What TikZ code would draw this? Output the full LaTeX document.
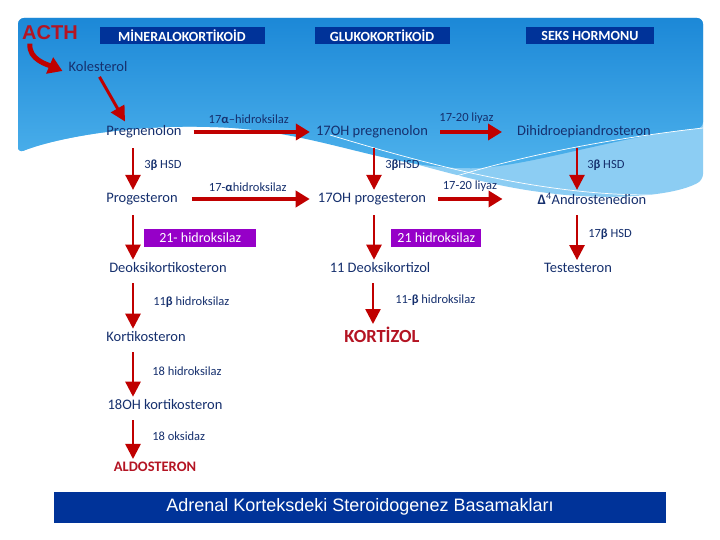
\documentclass[tikz,border=0pt]{standalone}
\usepackage{fontspec}
\setmainfont{Carlito}
\newfontfamily\arialfont{Liberation Sans}
\usetikzlibrary{arrows.meta,positioning,calc}
\definecolor{hdrblue}{RGB}{0,51,153}
\definecolor{txtblue}{RGB}{22,48,110}
\definecolor{arrred}{RGB}{192,0,0}
\definecolor{redtxt}{RGB}{180,20,35}
\definecolor{enzpurple}{RGB}{150,0,200}
\definecolor{bgtop}{RGB}{28,136,215}
\definecolor{bgbot}{RGB}{78,178,236}
\definecolor{bglight}{RGB}{140,205,243}

\begin{document}
\begin{tikzpicture}[x=1pt,y=-1pt,
  steroid/.style={font=\fontsize{14.5}{16}\selectfont,text=txtblue,inner sep=2pt},
  enzyme/.style={font=\fontsize{12.5}{14}\selectfont,text=txtblue,inner sep=1pt},
  header/.style={fill=hdrblue,text=white,font=\fontsize{14}{16}\selectfont\bfseries,
    minimum height=17pt,inner sep=0pt},
  purplebox/.style={fill=enzpurple,text=white,font=\fontsize{14}{16}\selectfont,
    minimum height=18pt,inner sep=0pt},
  endprod/.style={font=\bfseries,text=redtxt,inner sep=2pt},
  hflow/.style={draw=arrred,line width=4pt,-{Triangle[width=16pt,length=14pt]}},
  vflow/.style={draw=arrred,line width=2.5pt,-{Triangle[width=15pt,length=15pt]},
    shorten <=8pt,shorten >=1pt}
]
  \useasboundingbox[fill=white] (0,0) rectangle (720,540);

  % background
  \fill[bglight,rounded corners=6pt] (18,153) -- (18,18) -- (703,18) -- (703,180)
    .. controls (670,198) and (600,200) .. (540,192)
    .. controls (440,178) and (330,130) .. (210,127)
    .. controls (120,125) and (50,140) .. (18,153) -- cycle;
  \shade[top color=bgtop,bottom color=bgbot,rounded corners=6pt] (18,153) -- (18,18) -- (703,18) -- (703,128)
    .. controls (620,135) and (520,170) .. (460,168)
    .. controls (380,165) and (310,130) .. (210,127)
    .. controls (120,125) and (50,140) .. (18,153) -- cycle;
  \draw[white,line width=0.7pt] (330,135) .. controls (430,165) and (540,195) .. (650,195);
  \draw[white,line width=0.7pt] (450,178) .. controls (540,150) and (640,135) .. (703,128);

  % Headers
  \node[font=\arialfont\bfseries\fontsize{20}{22}\selectfont,text=redtxt] (acth) at (50,33) {ACTH};
  \node[header,minimum width=165pt] (hmin) at (182,36) {MİNERALOKORTİKOİD};
  \node[header,minimum width=135pt] (hglu) at (382,36) {GLUKOKORTİKOİD};
  \node[header,minimum width=128pt] (hseks) at (590,36) {SEKS HORMONU};

  \node[steroid] (kol) at (98,67) {Kolesterol};

  % Row 1
  \node[steroid] (preg) at (144,132) {Pregnenolon};
  \node[steroid] (ohpreg) at (372,132) {17OH pregnenolon};
  \node[steroid] (dhea) at (584,132) {Dihidroepiandrosteron};

  % Row 2
  \node[steroid] (prog) at (142,199) {Progesteron};
  \node[steroid] (ohprog) at (372,199) {17OH progesteron};
  \node[steroid] (andro) at (592,199) {\textbf{Δ}\textsuperscript{4}Androstenedion};

  % Row 3
  \node[steroid] (doc) at (168,268) {Deoksikortikosteron};
  \node[steroid] (deoxcort) at (380,268) {11 Deoksikortizol};
  \node[steroid] (testo) at (578,268) {Testesteron};

  % Row 4 and below
  \node[steroid] (corticost) at (146,337) {Kortikosteron};
  \node[endprod,font=\bfseries\fontsize{18.5}{20}\selectfont] (cortisol) at (382,335) {KORTİZOL};
  \node[steroid] (ohcort) at (165,405) {18OH kortikosteron};
  \node[endprod,font=\bfseries\fontsize{14.5}{16}\selectfont] (aldo) at (155,467) {ALDOSTERON};

  % ACTH and cholesterol
  \draw[draw=arrred,line width=5pt,-{Triangle[width=17pt,length=14pt]}]
    ([xshift=-20pt]acth.south) .. controls +(-2,16) and +(-14,-6) .. ([xshift=-4pt,yshift=-4pt]kol.west);
  \draw[draw=arrred,line width=3pt,-{Triangle[width=15pt,length=15pt]},shorten <=3pt]
    (kol.south) -- ([xshift=-19pt,yshift=2pt]preg.north);

  % horizontal steps
  \draw[hflow,shorten <=10pt,shorten >=4pt] (preg.east) -- (ohpreg.west)
    node[enzyme,midway,above=5pt] {17\textbf{α}–hidroksilaz};
  \draw[hflow,shorten <=10pt,shorten >=13pt] (ohpreg.east) -- (dhea.west)
    node[enzyme,midway,above=5pt,xshift=-6pt] {17-20 liyaz};
  \draw[hflow,shorten <=12pt,shorten >=6pt] (prog.east) -- (ohprog.west)
    node[enzyme,midway,above=4pt] {17-\textbf{α}hidroksilaz};
  \draw[hflow,shorten <=10pt,shorten >=33pt] (ohprog.east) -- (andro.west)
    node[enzyme,midway,above=4pt,xshift=-12pt] {17-20 liyaz};

  % column 1
  \draw[vflow] ([xshift=-11pt]preg.south) -- ([xshift=-9pt]prog.north)
    node[enzyme,midway,right=9pt] {3\textbf{β} HSD};
  \draw[vflow] ([xshift=-9pt]prog.south) -- ([xshift=-35pt]doc.north)
    node[purplebox,midway,right=10pt,yshift=-4pt,minimum width=112pt] {21- hidroksilaz};
  \draw[vflow] ([xshift=-35pt]doc.south) -- ([xshift=-13pt]corticost.north)
    node[enzyme,midway,right=18pt] {11\textbf{β} hidroksilaz};
  \draw[vflow] ([xshift=-13pt]corticost.south) -- ([xshift=-32pt]ohcort.north)
    node[enzyme,midway,right=17pt] {18 hidroksilaz};
  \draw[vflow] ([xshift=-32pt]ohcort.south) -- ([xshift=-22pt]aldo.north)
    node[enzyme,midway,right=17pt] {18 oksidaz};

  % column 2
  \draw[vflow] ([xshift=2pt]ohpreg.south) -- ([xshift=2pt]ohprog.north)
    node[enzyme,midway,right=9pt] {3\textbf{β}HSD};
  \draw[vflow] ([xshift=2pt]ohprog.south) -- ([xshift=-6pt]deoxcort.north)
    node[purplebox,midway,right=16pt,yshift=-4pt,minimum width=90pt] {21 hidroksilaz};
  \draw[vflow] ([xshift=-7pt]deoxcort.south) -- ([xshift=-9pt]cortisol.north)
    node[enzyme,midway,right=20pt] {11-\textbf{β} hidroksilaz};

  % column 3
  \draw[vflow] ([xshift=-7pt]dhea.south) -- ([xshift=-15pt]andro.north)
    node[enzyme,midway,right=8pt] {3\textbf{β} HSD};
  \draw[vflow] ([xshift=-15pt]andro.south) -- ([xshift=-1pt]testo.north)
    node[enzyme,midway,right=9pt] {17\textbf{β} HSD};

  % title
  \node[fill=hdrblue,text=white,minimum width=612pt,minimum height=31pt,inner sep=0pt,
    font=\arialfont\fontsize{18}{20}\selectfont] (title) at (360,507)
    {Adrenal Korteksdeki Steroidogenez Basamakları};
\end{tikzpicture}
\end{document}
